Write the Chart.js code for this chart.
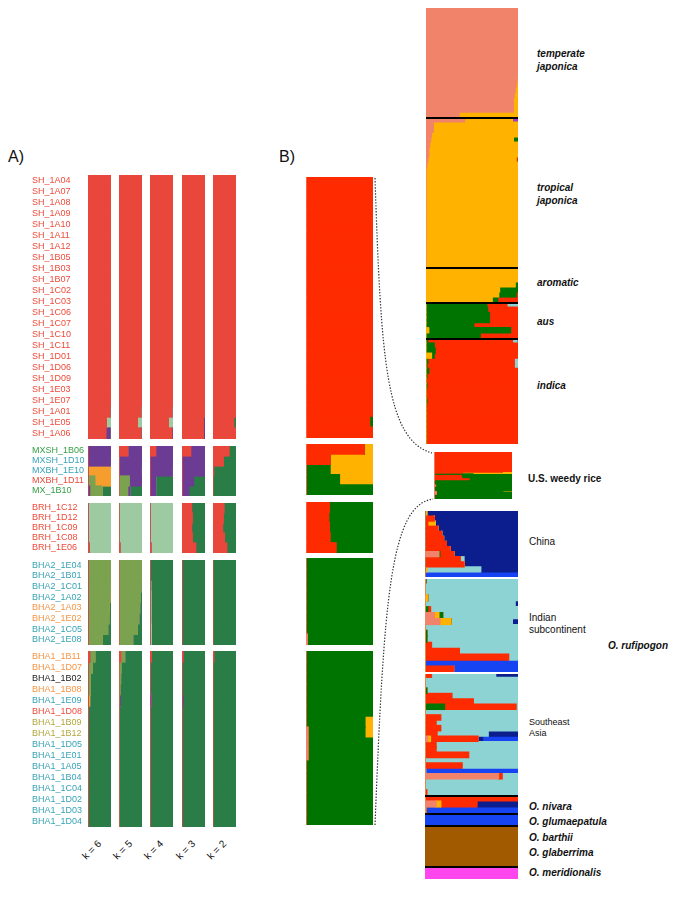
<!DOCTYPE html>
<html>
<head>
<meta charset="utf-8">
<title>STRUCTURE plots</title>
<script src="https://cdn.jsdelivr.net/npm/chart.js@4.4.1/dist/chart.umd.min.js"></script>
<style>
  html, body { margin: 0; padding: 0; background: #fff; }
  #fig { position: relative; width: 685px; height: 897px; overflow: hidden;
         font-family: "Liberation Sans", Arial, sans-serif; color: #111; }
  .plot { position: absolute; }
  .txt { position: absolute; white-space: nowrap; font-size: 10px; line-height: 12px; }
  .bi { font-weight: bold; font-style: italic; }
  .b { font-weight: bold; }
  .panel { position: absolute; font-size: 16px; line-height: 18px; }
  .k { position: absolute; width: 40px; text-align: center; font-size: 10px; line-height: 12px; transform: rotate(-45deg); }
  svg { position: absolute; left: 0; top: 0; pointer-events: none; }
</style>
</head>
<body>
<div id="fig">
  <div class="panel" style="left:8px;top:148px">A)</div>
  <div class="panel" style="left:279px;top:148px">B)</div>

  <div class="txt bi" style="left:537px;top:48px">temperate</div>
  <div class="txt bi" style="left:537px;top:61px">japonica</div>
  <div class="txt bi" style="left:537px;top:182px">tropical</div>
  <div class="txt bi" style="left:537px;top:195px">japonica</div>
  <div class="txt bi" style="left:537px;top:277px">aromatic</div>
  <div class="txt bi" style="left:537px;top:316px">aus</div>
  <div class="txt bi" style="left:537px;top:380px">indica</div>
  <div class="txt b" style="left:528px;top:473px">U.S. weedy rice</div>
  <div class="txt" style="left:529px;top:536px">China</div>
  <div class="txt" style="left:529px;top:612px">Indian</div>
  <div class="txt" style="left:529px;top:624px">subcontinent</div>
  <div class="txt bi" style="left:608px;top:640px">O. rufipogon</div>
  <div class="txt" style="left:529px;top:716px;font-size:9px">Southeast</div>
  <div class="txt" style="left:529px;top:727px;font-size:9px">Asia</div>
  <div class="txt bi" style="left:529px;top:801px">O. nivara</div>
  <div class="txt bi" style="left:529px;top:816px">O. glumaepatula</div>
  <div class="txt bi" style="left:529px;top:832px">O. barthii</div>
  <div class="txt bi" style="left:529px;top:847px">O. glaberrima</div>
  <div class="txt bi" style="left:529px;top:867px">O. meridionalis</div>

  <svg width="685" height="897">
    <path d="M375,178 C381,360 386,440 432,453" fill="none" stroke="#333" stroke-width="1.2" stroke-dasharray="1.4,1.6"/>
    <path d="M375,825 C384,600 390,505 433,499" fill="none" stroke="#333" stroke-width="1.2" stroke-dasharray="1.4,1.6"/>
  </svg>
</div>

<script>
// ---------------- samples (rows of panel A and the left column of panel B) ----------------
const groupSizes = [24, 5, 5, 8, 16];   // SH, MX, BRH, BHA2, BHA1

const sampleNames = [
  'SH_1A04','SH_1A07','SH_1A08','SH_1A09','SH_1A10','SH_1A11','SH_1A12','SH_1B05','SH_1B03','SH_1B07',
  'SH_1C02','SH_1C03','SH_1C06','SH_1C07','SH_1C10','SH_1C11','SH_1D01','SH_1D06','SH_1D09','SH_1E03',
  'SH_1E07','SH_1A01','SH_1E05','SH_1A06',
  'MXSH_1B06','MXSH_1D10','MXBH_1E10','MXBH_1D11','MX_1B10',
  'BRH_1C12','BRH_1D12','BRH_1C09','BRH_1C08','BRH_1E06',
  'BHA2_1E04','BHA2_1B01','BHA2_1C01','BHA2_1A02','BHA2_1A03','BHA2_1E02','BHA2_1C05','BHA2_1E08',
  'BHA1_1B11','BHA1_1D07','BHA1_1B02','BHA1_1B08','BHA1_1E09','BHA1_1D08','BHA1_1B09','BHA1_1B12',
  'BHA1_1D05','BHA1_1E01','BHA1_1A05','BHA1_1B04','BHA1_1C04','BHA1_1D02','BHA1_1D03','BHA1_1D04'
];

// label colour codes (r = red, g = green, t = teal, o = orange, k = black, y = olive)
const sampleCodes = [
  'r','r','r','r','r','r','r','r','r','r','r','r','r','r','r','r','r','r','r','r','r','r','r','r',
  'g','t','t','r','g',
  'r','r','r','r','r',
  't','t','t','t','o','o','t','t',
  'o','o','k','o','t','r','y','y','t','t','t','t','t','t','t','t'
];

const kLabels = ['k = 6', 'k = 5', 'k = 4', 'k = 3', 'k = 2'];

// ---------------- panel A: k = 6 ----------------
const k6Red = [
  1,1,1,1,1,1,1, 1,1,1,1,1,1,1, 1,1,1,1,1,1,1, 0.95,0.8,0.78,
  0,0,0,0,0,
  0,0,0,0,0.04,
  0,0,0,0,0,0,0,0,
  0.07,0,0,0,0,0,0,0, 0,0,0,0,0,0,0,0
];
const k6Purple = [
  0,0,0,0,0,0,0, 0,0,0,0,0,0,0, 0,0,0,0,0,0,0, 0,0,0.18,
  1,0.97,0,0,0.07,
  0,0,0,0,0,
  0,0,0,0,0,0,0,0,
  0,0,0,0,0,0,0,0, 0,0,0,0,0,0,0,0
];
const k6Olive = [
  0,0,0,0,0,0,0, 0,0,0,0,0,0,0, 0,0,0,0,0,0,0, 0,0,0,
  0,0,0,0.3,0.53,
  0,0,0,0,0,
  1,1,0.97,0.95,0.92,0.9,0.85,0.6,
  0.22,0.17,0.1,0.1,0,0,0,0, 0,0,0,0,0,0,0,0
];
const k6Orange = [
  0,0,0,0,0,0,0, 0,0,0,0,0,0,0, 0,0,0,0,0,0,0, 0,0,0,
  0,0,1,0.7,0,
  0,0,0,0,0,
  0,0,0,0,0,0,0,0,
  0,0,0,0,0.07,0,0,0, 0,0,0,0,0,0,0,0
];
const k6Mint = [
  0,0,0,0,0,0,0, 0,0,0,0,0,0,0, 0,0,0,0,0,0,0, 0.05,0.2,0.04,
  0,0.03,0,0,0,
  1,1,1,1,0.96,
  0,0,0,0,0,0,0,0,
  0,0,0,0,0,0,0,0, 0,0,0,0,0,0,0,0
];
const k6Green = [
  0,0,0,0,0,0,0, 0,0,0,0,0,0,0, 0,0,0,0,0,0,0, 0,0,0,
  0,0,0,0,0.4,
  0,0,0,0,0,
  0,0,0.03,0.05,0.08,0.1,0.15,0.4,
  0.71,0.83,0.9,0.9,0.93,1,1,1, 1,1,1,1,1,1,1,1
];

// ---------------- panel A: k = 5 ----------------
const k5Red = [
  1,1,1,1,1,1,1, 1,1,1,1,1,1,1, 1,1,1,1,1,1,1, 0.95,0.8,0.95,
  0.38,0,0,0,0,
  0,0,0,0,0.04,
  0,0,0,0,0,0,0,0,
  0.08,0,0,0,0,0,0,0, 0,0,0,0,0,0,0,0
];
const k5Olive = [
  0,0,0,0,0,0,0, 0,0,0,0,0,0,0, 0,0,0,0,0,0,0, 0,0,0,
  0,0,0,0.45,0.38,
  0,0,0,0,0,
  1,1,0.97,0.93,0.9,0.87,0.8,0.6,
  0.17,0.1,0.07,0.05,0.02,0,0,0, 0,0,0,0,0,0,0,0
];
const k5Purple = [
  0,0,0,0,0,0,0, 0,0,0,0,0,0,0, 0,0,0,0,0,0,0, 0,0,0.05,
  0.62,1,0.97,0.55,0.1,
  0,0,0,0,0,
  0,0,0,0,0,0,0,0,
  0,0,0,0,0.04,0,0,0, 0,0,0,0,0,0,0,0
];
const k5Mint = [
  0,0,0,0,0,0,0, 0,0,0,0,0,0,0, 0,0,0,0,0,0,0, 0.05,0.2,0,
  0,0,0.03,0,0,
  1,1,1,1,0.96,
  0,0,0,0,0,0,0,0,
  0,0,0,0,0,0,0,0, 0,0,0,0,0,0,0,0
];
const k5Green = [
  0,0,0,0,0,0,0, 0,0,0,0,0,0,0, 0,0,0,0,0,0,0, 0,0,0,
  0,0,0,0,0.52,
  0,0,0,0,0,
  0,0,0.03,0.07,0.1,0.13,0.2,0.4,
  0.75,0.9,0.93,0.95,0.94,1,1,1, 1,1,1,1,1,1,1,1
];

// ---------------- panel A: k = 4 ----------------
const k4Red = [
  1,1,1,1,1,1,1, 1,1,1,1,1,1,1, 1,1,1,1,1,1,1, 0.95,0.8,0.95,
  0.25,0,0,0,0,
  0,0,0,0,0.04,
  0,0,0,0,0,0,0,0,
  0.06,0,0,0,0,0,0,0, 0,0,0,0,0,0,0,0
];
const k4Purple = [
  0,0,0,0,0,0,0, 0,0,0,0,0,0,0, 0,0,0,0,0,0,0, 0,0,0.05,
  0.75,1,0.97,0.25,0.25,
  0,0,0,0,0,
  0,0,0,0,0,0,0,0,
  0,0,0,0,0.05,0,0,0, 0,0,0,0,0,0,0,0
];
const k4Mint = [
  0,0,0,0,0,0,0, 0,0,0,0,0,0,0, 0,0,0,0,0,0,0, 0.05,0.2,0,
  0,0,0.03,0,0,
  1,1,1,1,0.96,
  0,0,0.04,0.05,0.05,0.05,0.06,0.06,
  0,0,0,0,0,0,0,0, 0,0,0,0,0,0,0,0
];
const k4Green = [
  0,0,0,0,0,0,0, 0,0,0,0,0,0,0, 0,0,0,0,0,0,0, 0,0,0,
  0,0,0,0.75,0.75,
  0,0,0,0,0,
  1,1,0.96,0.95,0.95,0.95,0.94,0.94,
  0.94,1,1,1,0.95,1,1,1, 1,1,1,1,1,1,1,1
];

// ---------------- panel A: k = 3 ----------------
const k3Red = [
  1,1,1,1,1,1,1, 1,1,1,1,1,1,1, 1,1,1,1,1,1,1, 1,0.93,0.93,
  0.38,0,0,0,0,
  0.42,0.45,0.42,0.45,0.6,
  0,0,0,0,0,0,0,0,
  0.05,0,0,0,0,0,0,0, 0,0,0,0,0,0,0,0
];
const k3Purple = [
  0,0,0,0,0,0,0, 0,0,0,0,0,0,0, 0,0,0,0,0,0,0, 0,0.07,0.07,
  0.62,1,1,0.5,0.3,
  0,0,0,0,0,
  0,0,0,0,0,0,0,0,
  0,0,0,0,0.04,0,0,0, 0,0,0,0,0,0,0,0
];
const k3Green = [
  0,0,0,0,0,0,0, 0,0,0,0,0,0,0, 0,0,0,0,0,0,0, 0,0,0,
  0,0,0,0.5,0.7,
  0.58,0.55,0.58,0.55,0.4,
  1,1,1,1,1,1,1,1,
  0.95,1,1,1,0.96,1,1,1, 1,1,1,1,1,1,1,1
];

// ---------------- panel A: k = 2 ----------------
const k2Red = [
  1,1,1,1,1,1,1, 1,1,1,1,1,1,1, 1,1,1,1,1,1,1, 1,0.9,1,
  0.7,0.45,0.03,0,0,
  0.48,0.45,0.42,0.5,0.6,
  0,0,0,0,0,0,0,0,
  0.04,0,0,0,0,0,0,0, 0,0,0,0,0,0,0,0
];
const k2Green = [
  0,0,0,0,0,0,0, 0,0,0,0,0,0,0, 0,0,0,0,0,0,0, 0,0.1,0,
  0.3,0.55,0.97,1,1,
  0.52,0.55,0.58,0.5,0.4,
  1,1,1,1,1,1,1,1,
  0.96,1,1,1,1,1,1,1, 1,1,1,1,1,1,1,1
];

// ---------------- panel B: the same samples against the reference panel ----------------
const bSalmon = [
  0,0,0,0,0,0,0, 0,0,0,0,0,0,0, 0,0,0,0,0,0,0, 0,0,0,
  0,0,0,0,0,
  0,0,0,0,0,
  0,0,0,0,0,0,0,0.02,
  0,0,0,0,0,0,0,0.03, 0.03,0.03,0,0,0,0,0,0
];
const bRed = [
  1,1,1,1,1,1,1, 1,1,1,1,1,1,1, 1,1,1,1,1,1,1, 1,0.95,1,
  0.87,0.36,0,0,0,
  0.35,0.34,0.35,0.36,0.45,
  0,0,0,0,0,0,0,0,
  0,0,0,0,0,0,0,0, 0,0,0,0,0,0,0,0
];
const bGreen = [
  0,0,0,0,0,0,0, 0,0,0,0,0,0,0, 0,0,0,0,0,0,0, 0,0.05,0,
  0,0,0.36,0.5,1,
  0.65,0.66,0.65,0.64,0.55,
  1,1,1,1,1,1,1,0.98,
  1,1,1,1,1,1,0.88,0.85, 0.97,0.97,1,1,1,1,1,1
];
const bOrange = [
  0,0,0,0,0,0,0, 0,0,0,0,0,0,0, 0,0,0,0,0,0,0, 0,0,0,
  0.13,0.64,0.64,0.5,0,
  0,0,0,0,0,
  0,0,0,0,0,0,0,0,
  0,0,0,0,0,0,0.12,0.12, 0,0,0,0,0,0,0,0
];

// ---------------- panel B: reference accessions ----------------
const tempSalmon = [1,1,1,1,1,1,1,1,1,1,1,1,1,1, 0.99,0.98,0.97,0.96,0.95,0.95,0.95,0.36];
const tempOrange = [0,0,0,0,0,0,0,0,0,0,0,0,0,0, 0.01,0.02,0.03,0.04,0.05,0.05,0.05,0.64];

const tropSalmon = [0.42,0.08,0.08,0.06,0.05,0.04,0.03,0.03,0.02,0.01, 0,0,0,0,0,0,0,0,0,0, 0,0,0,0,0,0,0,0,0,0];
const tropOrange = [0.52,0.92,0.92,0.94,0.9,0.96,0.97,0.97,0.96,0.99, 1,1,1,1,1,1,1,1,1,1, 1,1,1,1,1,1,1,1,1,1];
const tropGreen  = [0,0,0,0,0.05,0,0,0,0,0, 0,0,0,0,0,0,0,0,0,0, 0,0,0,0,0,0,0,0,0,0];
const tropRed    = [0,0,0,0,0,0,0,0,0.02,0, 0,0,0,0,0,0,0,0,0,0, 0,0,0,0,0,0,0,0,0,0];
const tropPurple = [0.06,0,0,0,0,0,0,0,0,0, 0,0,0,0,0,0,0,0,0,0, 0,0,0,0,0,0,0,0,0,0];

const aroOrange = [1,1,1,0.97,0.8,0.79,0.72];
const aroGreen  = [0,0,0,0.03,0.2,0.19,0.06];
const aroRed    = [0,0,0,0,0,0.02,0.22];

const ausOrange    = [0,0,0,0,0,0.03,0];
const ausGreen     = [0.66,0.67,0.69,0.69,0.52,0.89,0.59];
const ausRed       = [0.22,0.33,0.31,0.31,0.48,0.08,0.41];
const ausLightblue = [0.12,0,0,0,0,0,0];

const indOrange    = [0,0,0,0.06,0,0,0,0,0,0,0,0,0,0,0,0,0,0,0,0,0];
const indGreen     = [0.02,0.09,0.1,0.03,0.02,0.01,0.03,0.01,0,0.01,0,0,0.01,0,0,0,0,0,0,0,0];
const indRed       = [0.92,0.91,0.9,0.91,0.94,0.95,0.97,0.99,1,0.99,1,1,0.99,1,1,1,1,1,1,1,1];
const indLightblue = [0.05,0,0,0,0.04,0.04,0,0,0,0,0,0,0,0,0,0,0,0,0,0,0];
const indNavy      = [0.01,0,0,0,0,0,0,0,0,0,0,0,0,0,0,0,0,0,0,0,0];

const chinaSalmon    = [0,0,0,0,0,0,0,0,0.15,0,0,0,0];
const chinaGreen     = [0,0,0,0,0,0,0,0,0.01,0,0,0,0];
const chinaRed       = [0,0.1,0.03,0.14,0.18,0.2,0.23,0.27,0.15,0.38,0.42,0,0];
const chinaOrange    = [0.02,0,0.08,0,0,0,0,0,0,0,0,0.02,0];
const chinaLightblue = [0,0,0,0,0,0,0,0,0,0.04,0,0.58,0];
const chinaNavy      = [0.98,0.9,0.89,0.86,0.82,0.8,0.77,0.73,0.69,0.58,0.58,0.4,0];
const chinaBlue      = [0,0,0,0,0,0,0,0,0,0,0,0,1];

const indiaSalmon    = [0,0,0,0,0,0,0.1,0.16,0,0,0,0,0,0,0,0];
const indiaOrange    = [0,0,0,0.03,0,0,0.05,0.12,0,0,0,0,0,0,0,0];
const indiaGreen     = [0.01,0,0,0,0,0.03,0.04,0,0,0.02,0.02,0,0,0,0,0];
const indiaRed       = [0,0,0,0,0,0.03,0,0,0,0,0,0.07,0.37,0.9,0,0.31];
const indiaLightblue = [0.99,1,1,0.97,0.97,0.94,0.81,0.66,1,0.98,0.98,0.93,0.63,0.1,0,0];
const indiaNavy      = [0,0,0,0,0.03,0,0,0.06,0,0,0,0,0,0,0,0];
const indiaBlue      = [0,0,0,0,0,0,0,0,0,0,0,0,0,0,1,0.69];

const seaSalmon    = [0,0,0,0,0,0,0,0,0,0,0,0,0.03,0,0,0,0,0,0,0.79,0,0,0];
const seaOrange    = [0,0,0,0,0,0,0,0,0,0,0,0,0.03,0,0,0,0,0,0,0,0,0,0];
const seaGreen     = [0,0,0,0.02,0,0,0.21,0,0,0,0,0,0,0,0,0,0,0,0,0,0,0,0];
const seaRed       = [0.07,0,0,0,0.29,0.52,0.77,0,0.17,0.12,0.17,0.13,0.51,0.12,0.12,0.47,0,0.4,0,0.04,0,0,0.02];
const seaLightblue = [0.69,1,1,0.98,0.71,0.48,0.02,1,0.83,0.88,0.83,0.55,0,0.88,0.88,0.53,1,0.6,0.01,0.17,1,1,0.98];
const seaNavy      = [0.24,0,0,0,0,0,0,0,0,0,0,0.32,0.05,0,0,0,0,0,0,0,0,0,0];
const seaBlue      = [0,0,0,0,0,0,0,0,0,0,0,0,0.38,0,0,0,0,0,0.99,0,0,0,0];

const nivSalmon = [0,0.12,0];
const nivOrange = [0,0.05,0.01];
const nivRed    = [1,0.39,0];
const nivNavy   = [0,0.44,0];
const nivBlue   = [0,0,0.99];

const glumBlue  = [1,1];
const barBrown  = [1,1];
const merMagenta = [1];

// ---------------- styles ----------------
const A = { red: '#E9473B', purple: '#6C3B93', olive: '#7BA24F', orange: '#F59E2E', mint: '#9DCAA1', green: '#2B7D47' };
const B = { salmon: '#F0836A', red: '#FF2B00', green: '#007400', orange: '#FFB300', lightblue: '#8DD3D4',
            navy: '#0C1E8E', blue: '#1744F2', brown: '#A15A00', magenta: '#FF45EE', purple: '#A03CC8' };
const codeColor = { r: '#EE4A3A', g: '#35A046', t: '#37A3B5', o: '#F59443', k: '#222222', y: '#B3A63A' };

const colX = [88, 119, 150, 182, 213];
const colW = 23;
const groupTopA = [175, 446, 503, 560, 651];
const groupHA   = [264, 50, 50, 85, 176];
const groupTopB = [177, 444, 502, 558, 651];
const groupHB   = [261, 51, 51, 87, 174];
const LABEL_LEFT = 32;
const LABEL_W = 56;

Chart.defaults.font.family = '"Liberation Sans", Arial, sans-serif';

const fig = document.getElementById('fig');

const sepLine = {
  id: 'sepLine',
  afterDatasetsDraw(chart, args, opts) {
    if (!opts || !opts.color) return;
    const { ctx, chartArea: a } = chart;
    ctx.save();
    ctx.fillStyle = opts.color;
    ctx.fillRect(a.left, a.top, a.right - a.left, opts.width || 2);
    ctx.restore();
  }
};

function makeCanvas(x, y, w, h) {
  const c = document.createElement('canvas');
  c.width = w; c.height = h;
  c.className = 'plot';
  c.style.left = x + 'px'; c.style.top = y + 'px';
  c.style.width = w + 'px'; c.style.height = h + 'px';
  fig.appendChild(c);
  return c;
}

function structurePlot(canvas, labels, parts, sep, tickColors) {
  const showTicks = !!tickColors;
  return new Chart(canvas, {
    type: 'bar',
    data: {
      labels,
      datasets: parts.map(([color, values]) => ({
        data: values, backgroundColor: color, borderWidth: 0,
        categoryPercentage: 1, barPercentage: 1, inflateAmount: 0.6
      }))
    },
    options: {
      indexAxis: 'y', responsive: false, animation: false, events: [],
      layout: { padding: 0 },
      plugins: { legend: { display: false }, tooltip: { enabled: false }, sepLine: sep || {} },
      scales: {
        x: { stacked: true, min: 0, max: 1, display: false },
        y: {
          stacked: true, display: showTicks,
          grid: { display: false, drawTicks: false }, border: { display: false },
          ticks: {
            autoSkip: false, crossAlign: 'far', padding: 0, font: { size: 9 },
            color: showTicks ? (c => tickColors[c.index]) : '#000'
          },
          afterFit: s => {
            if (showTicks) s.width = LABEL_W;
            s.paddingTop = 0; s.paddingBottom = 0;
          }
        }
      }
    },
    plugins: [sepLine]
  });
}

// ---------------- panel A ----------------
const kColumns = [
  [[A.red, k6Red], [A.purple, k6Purple], [A.olive, k6Olive], [A.orange, k6Orange], [A.mint, k6Mint], [A.green, k6Green]],
  [[A.red, k5Red], [A.olive, k5Olive], [A.purple, k5Purple], [A.mint, k5Mint], [A.green, k5Green]],
  [[A.red, k4Red], [A.purple, k4Purple], [A.mint, k4Mint], [A.green, k4Green]],
  [[A.red, k3Red], [A.purple, k3Purple], [A.green, k3Green]],
  [[A.red, k2Red], [A.green, k2Green]]
];

let start = 0;
groupSizes.forEach((n, g) => {
  const end = start + n;
  const names = sampleNames.slice(start, end);
  kColumns.forEach((parts, c) => {
    const sliced = parts.map(([col, vals]) => [col, vals.slice(start, end)]);
    if (c === 0) {
      const cv = makeCanvas(LABEL_LEFT, groupTopA[g], LABEL_W + colW, groupHA[g]);
      const tickColors = sampleCodes.slice(start, end).map(k => codeColor[k]);
      structurePlot(cv, names, sliced, null, tickColors);
    } else {
      structurePlot(makeCanvas(colX[c], groupTopA[g], colW, groupHA[g]), names, sliced);
    }
  });
  // panel B, left column
  const bParts = [[B.salmon, bSalmon], [B.red, bRed], [B.green, bGreen], [B.orange, bOrange]]
    .map(([col, vals]) => [col, vals.slice(start, end)]);
  structurePlot(makeCanvas(306, groupTopB[g], 67, groupHB[g]), names, bParts);
  start = end;
});

kLabels.forEach((t, c) => {
  const d = document.createElement('div');
  d.className = 'k';
  d.textContent = t;
  d.style.left = (colX[c] + colW / 2 - 7.5 - 20) + 'px';
  d.style.top = '844px';
  fig.appendChild(d);
});

// ---------------- panel B, right column ----------------
const rows = n => Array.from({ length: n }, (_, i) => String(i + 1));
const refGroups = [
  { x: 426, y: 8,   w: 92, h: 109, sep: null,
    parts: [[B.salmon, tempSalmon], [B.orange, tempOrange]] },
  { x: 426, y: 117, w: 92, h: 150, sep: { color: '#000' },
    parts: [[B.salmon, tropSalmon], [B.orange, tropOrange], [B.green, tropGreen], [B.red, tropRed], [B.purple, tropPurple]] },
  { x: 426, y: 267, w: 92, h: 35, sep: { color: '#000' },
    parts: [[B.orange, aroOrange], [B.green, aroGreen], [B.red, aroRed]] },
  { x: 426, y: 302, w: 92, h: 36, sep: { color: '#000' },
    parts: [[B.orange, ausOrange], [B.green, ausGreen], [B.red, ausRed], [B.lightblue, ausLightblue]] },
  { x: 426, y: 338, w: 92, h: 106, sep: { color: '#000' },
    parts: [[B.orange, indOrange], [B.green, indGreen], [B.red, indRed], [B.lightblue, indLightblue], [B.navy, indNavy]] },
  { x: 425, y: 511, w: 93, h: 66, sep: null,
    parts: [[B.salmon, chinaSalmon], [B.green, chinaGreen], [B.red, chinaRed], [B.orange, chinaOrange],
            [B.lightblue, chinaLightblue], [B.navy, chinaNavy], [B.blue, chinaBlue]] },
  { x: 425, y: 577, w: 93, h: 95, sep: { color: '#fff' },
    parts: [[B.salmon, indiaSalmon], [B.orange, indiaOrange], [B.green, indiaGreen], [B.red, indiaRed],
            [B.lightblue, indiaLightblue], [B.navy, indiaNavy], [B.blue, indiaBlue]] },
  { x: 425, y: 672, w: 93, h: 123, sep: { color: '#fff' },
    parts: [[B.salmon, seaSalmon], [B.orange, seaOrange], [B.green, seaGreen], [B.red, seaRed],
            [B.lightblue, seaLightblue], [B.navy, seaNavy], [B.blue, seaBlue]] },
  { x: 425, y: 795, w: 93, h: 18, sep: { color: '#000' },
    parts: [[B.salmon, nivSalmon], [B.orange, nivOrange], [B.red, nivRed], [B.navy, nivNavy], [B.blue, nivBlue]] },
  { x: 425, y: 813, w: 93, h: 12, sep: { color: '#000' }, parts: [[B.blue, glumBlue]] },
  { x: 425, y: 825, w: 93, h: 41, sep: { color: '#000' }, parts: [[B.brown, barBrown]] },
  { x: 425, y: 866, w: 93, h: 13, sep: { color: '#000' }, parts: [[B.magenta, merMagenta]] }
];

refGroups.forEach(gr => {
  structurePlot(makeCanvas(gr.x, gr.y, gr.w, gr.h), rows(gr.parts[0][1].length), gr.parts, gr.sep);
});

// U.S. weedy rice: all 58 samples squeezed into one block
structurePlot(makeCanvas(434, 452, 78, 47), sampleNames,
  [[B.salmon, bSalmon], [B.red, bRed], [B.green, bGreen], [B.orange, bOrange]]);
</script>
</body>
</html>
